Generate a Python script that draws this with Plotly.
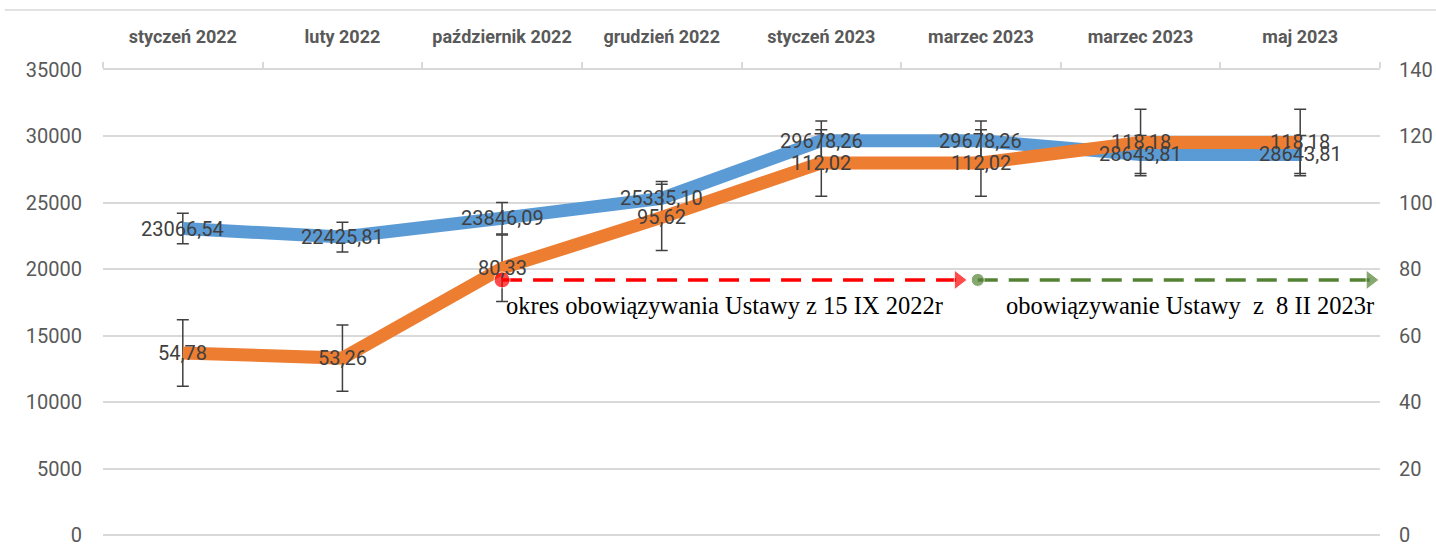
import plotly.graph_objects as go

categories = ["styczeń 2022", "luty 2022", "październik 2022", "grudzień 2022",
              "styczeń 2023", "marzec 2023", "marzec 2023", "maj 2023"]
salary = [23066.54, 22425.81, 23846.09, 25335.10, 29678.26, 29678.26, 28643.81, 28643.81]
salary_err = [1150, 1120, 1190, 1270, 1480, 1480, 1430, 1430]
index_vals = [54.78, 53.26, 80.33, 95.62, 112.02, 112.02, 118.18, 118.18]
index_err = [10, 10, 10, 10, 10, 10, 10, 10]

left_ticks = [0, 5000, 10000, 15000, 20000, 25000, 30000, 35000]
right_ticks = [0, 20, 40, 60, 80, 100, 120, 140]

# annotation arrows (on category/right-axis scale)
red_arrow_x = [2, 4.86]
green_arrow_x = [4.98, 7.44]
arrow_level = 76.8
text_level = 69
red_text = "okres obowiązywania Ustawy z 15 IX 2022r"
green_text = "obowiązywanie Ustawy  z  8 II 2023r"

xs = list(range(len(categories)))

def fmt(v):
    return f"{v:.2f}".replace(".", ",")

LBL_FONT = "Roboto, sans-serif"
GREY = "#595959"

fig = go.Figure()
fig.add_trace(go.Scatter(
    x=xs, y=salary, mode="lines", yaxis="y",
    line=dict(color="#5B9BD5", width=13),
    error_y=dict(type="data", array=salary_err, color="#404040", thickness=1.5, width=6),
    hoverinfo="skip", showlegend=False))
fig.add_trace(go.Scatter(
    x=xs, y=index_vals, mode="lines", yaxis="y2",
    line=dict(color="#ED7D31", width=13),
    error_y=dict(type="data", array=index_err, color="#404040", thickness=1.5, width=6),
    hoverinfo="skip", showlegend=False))

# arrows
fig.add_trace(go.Scatter(
    x=red_arrow_x, y=[arrow_level, arrow_level], yaxis="y2", mode="lines+markers",
    line=dict(color="#FF0000", width=3.5, dash="20px,11px"),
    marker=dict(symbol=["circle", "triangle-right"], size=[16, 17], color="#FF0000"),
    hoverinfo="skip", showlegend=False))
fig.add_trace(go.Scatter(
    x=green_arrow_x, y=[arrow_level, arrow_level], yaxis="y2", mode="lines+markers",
    line=dict(color="#548235", width=3.5, dash="20px,11px"),
    marker=dict(symbol=["circle", "triangle-right"], size=[13, 17], color="#548235"),
    hoverinfo="skip", showlegend=False))

annotations = []
for x, v in zip(xs, salary):
    annotations.append(dict(x=x, y=v, xref="x", yref="y", text=fmt(v), showarrow=False,
                            font=dict(family=LBL_FONT, size=20, color="#404040")))
for x, v in zip(xs, index_vals):
    annotations.append(dict(x=x, y=v, xref="x", yref="y2", text=fmt(v), showarrow=False,
                            font=dict(family=LBL_FONT, size=20, color="#404040")))
annotations.append(dict(x=red_arrow_x[0], y=text_level, xref="x", yref="y2", text=red_text,
                        showarrow=False, xanchor="left", xshift=2,
                        font=dict(family="Liberation Serif, DejaVu Serif, serif", size=24.5, color="#000000")))
annotations.append(dict(x=7.5, y=text_level, xref="x", yref="y2", text=green_text,
                        showarrow=False, xanchor="right", xshift=-4,
                        font=dict(family="Liberation Serif, DejaVu Serif, serif", size=24.5, color="#000000")))

fig.update_layout(
    width=1436, height=544,
    margin=dict(l=103, r=56, t=70, b=9, autoexpand=False),
    paper_bgcolor="white", plot_bgcolor="white",
    annotations=annotations,
    shapes=[dict(type="line", xref="paper", yref="paper", x0=-0.077, x1=1.05,
                 y0=1.129, y1=1.129, line=dict(color="#D9D9D9", width=1.5))],
    xaxis=dict(
        range=[-0.5, 7.5], side="top", tickvals=xs, ticktext=categories,
        tickangle=0, automargin=False,
        ticks="", showgrid=False, zeroline=False, showline=True,
        linecolor="#D9D9D9", linewidth=1.5, ticklabelstandoff=18,
        tickfont=dict(family=LBL_FONT, size=18, color=GREY, weight="bold"),
        minor=dict(tick0=-0.5, dtick=1, ticks="outside", ticklen=6, tickcolor="#D9D9D9",
                   tickwidth=1.5, showgrid=False),
    ),
    yaxis=dict(
        range=[0, 35000], tickvals=left_ticks, ticktext=[str(t) for t in left_ticks],
        showgrid=True, gridcolor="#D9D9D9", gridwidth=1.5,
        zeroline=True, zerolinecolor="#D9D9D9", zerolinewidth=1.5,
        showline=False, ticks="", ticklabelstandoff=20, automargin=False,
        ticklabeloverflow="allow",
        tickfont=dict(family=LBL_FONT, size=20, color=GREY),
    ),
    yaxis2=dict(
        range=[0, 140], tickvals=right_ticks, ticktext=[str(t) for t in right_ticks],
        overlaying="y", side="right", showgrid=False, zeroline=False, showline=False,
        ticks="", ticklabelstandoff=18, automargin=False,
        ticklabeloverflow="allow",
        tickfont=dict(family=LBL_FONT, size=20, color=GREY),
    ),
)

fig.write_html("out.html", config={"displayModeBar": False},
               post_script="document.body.style.margin='0';document.body.style.overflow='hidden';")
